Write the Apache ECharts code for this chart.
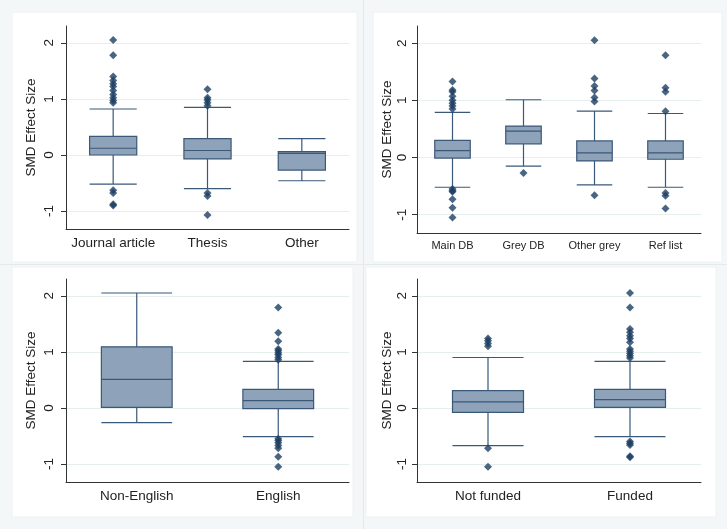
<!DOCTYPE html>
<html>
<head>
<meta charset="utf-8">
<script src="https://cdn.jsdelivr.net/npm/echarts@6/dist/echarts.min.js"></script>
<style>
html,body{margin:0;padding:0;background:#f3f7f7;}
#chart{width:727px;height:529px;}
</style>
</head>
<body>
<div id="chart"></div>
<script>
// ---------- data ----------
const yTicks = [-1, 0, 1, 2];
const yAxisTitle = 'SMD Effect Size';

// [lower whisker, Q1, median, Q3, upper whisker]
const p1Categories = ['Journal article', 'Thesis', 'Other'];
const p1Boxes = [
  [-0.52, 0.00, 0.12, 0.33, 0.82],
  [-0.60, -0.07, 0.08, 0.29, 0.85],
  [-0.46, -0.27, 0.03, 0.06, 0.29]
];
const p1Outliers = [
  [2.05, 1.78, 1.40, 1.33, 1.27, 1.22, 1.15, 1.08, 1.02, 0.97, 0.93, -0.63, -0.68, -0.88, -0.90],
  [1.17, 1.02, 0.98, 0.93, 0.88, -0.68, -0.73, -1.07],
  []
];

const p2Categories = ['Main DB', 'Grey DB', 'Other grey', 'Ref list'];
const p2Boxes = [
  [-0.52, -0.01, 0.12, 0.30, 0.79],
  [-0.15, 0.24, 0.46, 0.55, 1.01],
  [-0.48, -0.06, 0.08, 0.29, 0.81],
  [-0.52, -0.03, 0.08, 0.29, 0.77]
];
const p2Outliers = [
  [1.33, 1.18, 1.15, 1.07, 1.00, 0.95, 0.90, 0.85, -0.55, -0.58, -0.60, -0.73, -0.88, -1.05],
  [-0.27],
  [2.05, 1.38, 1.25, 1.17, 1.05, 0.98, -0.66],
  [1.79, 1.22, 1.15, 0.81, -0.62, -0.67, -0.89]
];

const p3Categories = ['Non-English', 'English'];
const p3Boxes = [
  [-0.26, 0.01, 0.51, 1.09, 2.05],
  [-0.51, -0.01, 0.13, 0.33, 0.83]
];
const p3Outliers = [
  [],
  [1.79, 1.34, 1.19, 1.05, 1.02, 0.98, 0.95, 0.90, 0.86, -0.55, -0.58, -0.62, -0.67, -0.72, -0.87, -1.05]
];

const p4Categories = ['Not funded', 'Funded'];
const p4Boxes = [
  [-0.67, -0.08, 0.11, 0.31, 0.90],
  [-0.51, 0.01, 0.15, 0.33, 0.83]
];
const p4Outliers = [
  [1.24, 1.20, 1.15, 1.10, -0.72, -1.05],
  [2.05, 1.79, 1.41, 1.35, 1.29, 1.24, 1.17, 1.05, 1.01, 0.97, 0.93, 0.89, -0.60, -0.63, -0.66, -0.86, -0.88]
];

// ---------- styling / layout ----------
const FONT = 'Liberation Sans, Arial, sans-serif';
const BOX_FILL = '#8ea3b9';
const BOX_LINE = '#3a5878';
const DOT = '#1d3f63';
const AXIS = '#333333';
const TEXT = '#222222';
const GRIDLINE = '#e6eeee';

const panels = [
  {cats: p1Categories, boxes: p1Boxes, outl: p1Outliers, grid: {left: 66, right: 378, top: 26, bottom: 300}, xFont: 13.5, xMargin: 7, nameGap: 28, labMargin: 10},
  {cats: p2Categories, boxes: p2Boxes, outl: p2Outliers, grid: {left: 417, right: 26, top: 26, bottom: 296}, xFont: 11, xMargin: 7, nameGap: 21, labMargin: 8},
  {cats: p3Categories, boxes: p3Boxes, outl: p3Outliers, grid: {left: 66, right: 378, top: 279, bottom: 47}, xFont: 13.5, xMargin: 7, nameGap: 28, labMargin: 10},
  {cats: p4Categories, boxes: p4Boxes, outl: p4Outliers, grid: {left: 417, right: 26, top: 279, bottom: 47}, xFont: 13.5, xMargin: 7, nameGap: 21, labMargin: 8}
];

const grids = [], xAxes = [], yAxes = [], series = [];
panels.forEach((p, i) => {
  grids.push(Object.assign({containLabel: false}, p.grid));
  xAxes.push({
    type: 'category', gridIndex: i, data: p.cats, boundaryGap: true,
    axisLine: {onZero: false, lineStyle: {color: AXIS, width: 1}},
    axisTick: {show: false},
    axisLabel: {color: TEXT, fontFamily: FONT, fontSize: p.xFont, margin: p.xMargin, interval: 0},
    splitLine: {show: false}
  });
  yAxes.push({
    type: 'value', gridIndex: i, min: -1.32, max: 2.3,
    name: yAxisTitle, nameLocation: 'middle', nameGap: p.nameGap,
    nameTextStyle: {color: TEXT, fontFamily: FONT, fontSize: 13.5},
    axisLine: {show: true, onZero: false, lineStyle: {color: AXIS, width: 1}},
    axisTick: {show: true, length: 5, customValues: yTicks, lineStyle: {color: AXIS}},
    axisLabel: {color: TEXT, fontFamily: FONT, fontSize: 13.5, rotate: 90, margin: p.labMargin, customValues: yTicks},
    splitLine: {show: true, lineStyle: {color: GRIDLINE, width: 1}}
  });
  series.push({
    type: 'boxplot', xAxisIndex: i, yAxisIndex: i,
    data: p.boxes,
    boxWidth: ['50%', '50%'],
    itemStyle: {color: BOX_FILL, borderColor: BOX_LINE, borderWidth: 1.2},
    emphasis: {disabled: true},
    silent: true
  });
  const pts = [];
  p.outl.forEach((arr, ci) => arr.forEach(v => pts.push([p.cats[ci], v])));
  series.push({
    type: 'scatter', xAxisIndex: i, yAxisIndex: i,
    data: pts, symbol: 'diamond', symbolSize: 8,
    itemStyle: {color: DOT}, silent: true
  });
});

const chart = echarts.init(document.getElementById('chart'), null, {renderer: 'canvas'});
chart.setOption({
  backgroundColor: '#f3f7f7',
  animation: false,
  graphic: [
    {type: 'rect', shape: {x: 12, y: 12, width: 345, height: 250}, style: {fill: '#ffffff', stroke: '#eef2f2'}, z: -10},
    {type: 'rect', shape: {x: 373, y: 12, width: 349, height: 250}, style: {fill: '#ffffff', stroke: '#eef2f2'}, z: -10},
    {type: 'rect', shape: {x: 12, y: 267, width: 341, height: 250}, style: {fill: '#ffffff', stroke: '#eef2f2'}, z: -10},
    {type: 'rect', shape: {x: 366, y: 267, width: 350, height: 250}, style: {fill: '#ffffff', stroke: '#eef2f2'}, z: -10},
    {type: 'line', shape: {x1: 363.5, y1: 0, x2: 363.5, y2: 529}, style: {stroke: '#e4eaea', lineWidth: 1}, z: -9},
    {type: 'line', shape: {x1: 0, y1: 264.5, x2: 727, y2: 264.5}, style: {stroke: '#e4eaea', lineWidth: 1}, z: -9}
  ],
  grid: grids,
  xAxis: xAxes,
  yAxis: yAxes,
  series: series
});
</script>
</body>
</html>
